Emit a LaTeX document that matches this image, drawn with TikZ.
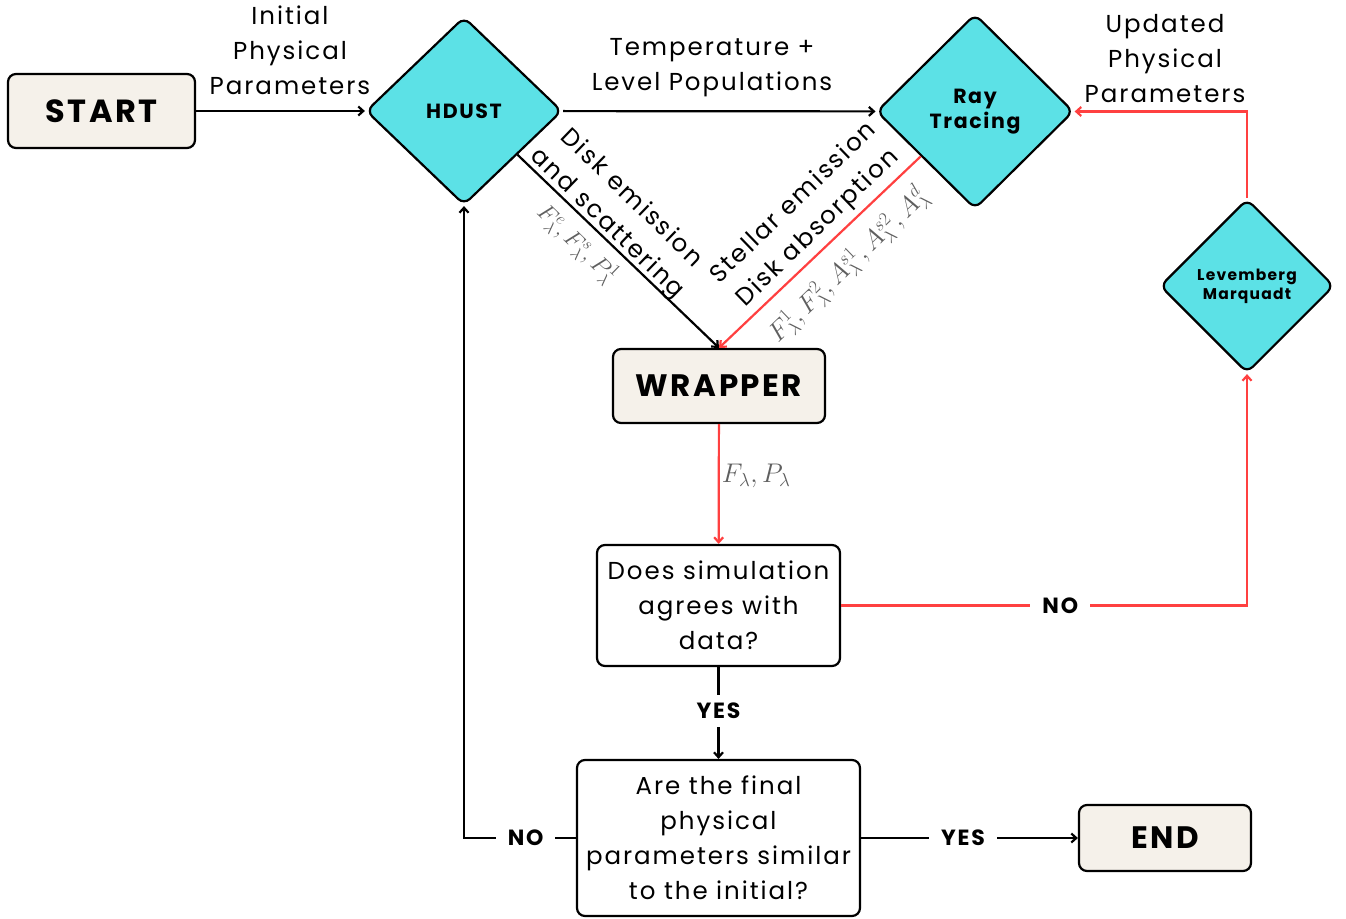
\RequirePackage{fix-cm}
\documentclass[tikz,border=0pt]{standalone}
\usepackage{fontspec}
\setmainfont{Poppins}[LetterSpace=8]
\usetikzlibrary{shapes.geometric,arrows.meta,calc}
\definecolor{cyanf}{RGB}{92,225,230}
\definecolor{beige}{RGB}{245,241,234}
\definecolor{redl}{RGB}{255,64,64}
\definecolor{mathgray}{RGB}{95,95,95}
\begin{document}
\begin{tikzpicture}[x=1pt,y=-1pt,
  term/.style={draw=black, line width=2.2pt, rounded corners=8pt, fill=beige, inner sep=0pt,
    font=\fontsize{31}{31}\selectfont\bfseries},
  qbox/.style={draw=black, line width=2.2pt, rounded corners=8pt, fill=white, align=center,
    inner sep=0pt, font=\fontsize{24.5}{35}\selectfont},
  dia/.style={diamond, draw=black, line width=2.2pt, rounded corners=8pt, fill=cyanf,
    inner sep=0pt, align=center},
  lbl/.style={align=center, inner sep=0pt, font=\fontsize{24.5}{35}\selectfont},
  mlbl/.style={inner sep=0pt, text=mathgray, font=\fontsize{24}{28}\selectfont},
  yn/.style={fill=white, text=black, inner xsep=12pt, inner ysep=3pt, font=\fontsize{22}{22}\selectfont\bfseries},
  conn/.style={line width=2.2pt, -{Straight Barb[length=5pt,width=9pt]}},
]
\useasboundingbox (0,0) rectangle (1346,918);

% nodes
\node[term, minimum width=187pt, minimum height=74pt, font=\fontsize{32}{32}\selectfont\bfseries] (start) at (101.5,111) {START};
\node[dia, minimum width=196pt, minimum height=188pt, font=\fontsize{20.5}{24}\selectfont\bfseries] (hdust) at (464,111) {HDUST};
\node[dia, minimum width=197pt, minimum height=195pt, font=\fontsize{20.5}{25}\selectfont\bfseries] (ray) at (975,111.5) {Ray\\Tracing};
\node[dia, minimum width=174pt, minimum height=174pt, font=\fontsize{15.5}{19}\selectfont\bfseries] (lm) at (1247,286) {Levemberg\\Marquadt};
\node[term, minimum width=212pt, minimum height=74pt] (wrapper) at (719,386) {WRAPPER};
\node[qbox, minimum width=243pt, minimum height=121pt] (does) at (718.5,605.5) {Does simulation\\agrees with\\data?};
\node[qbox, minimum width=283pt, minimum height=156pt] (are) at (718.5,838) {Are the final\\physical\\parameters similar\\to the initial?};
\node[term, minimum width=172pt, minimum height=66pt] (end) at (1165,838) {END};

% labels
\node[lbl] (initlab) at (290,50) {Initial\\Physical\\Parameters};
\node[lbl] (templab) at (712,68) {Temperature +\\Level Populations};
\node[lbl] (updlab) at (1165,59) {Updated\\Physical\\Parameters};
\node[lbl, rotate=-44] (disklab) at (619,211.5) {Disk emission\\and scattering};
\node[mlbl, rotate=-44] (diskmath) at (577,244) {$F^e_\lambda, F^s_\lambda, P^1_\lambda$};
\node[lbl, rotate=44] (starlab) at (806,216) {Stellar emission\\Disk absorption};
\node[mlbl, rotate=44, font=\fontsize{26.5}{30}\selectfont] (starmath) at (848,265) {$F^1_\lambda, F^2_\lambda, A^{s1}_\lambda, A^{s2}_\lambda, A^d_\lambda$};

% connectors
\draw[conn] (start) -- (hdust);
\draw[conn] (hdust) -- (ray);
\coordinate (hdout) at ($(hdust.east)!0.46!(hdust.south)$);
\coordinate (rayout) at ($(ray.west)!0.455!(ray.south)$);
\draw[conn] (hdout) -- (wrapper.north);
\draw[conn, redl] (rayout) -- (wrapper.north);
\draw[conn, redl] (wrapper) -- node[mlbl, right=2pt, pos=0.43, font=\fontsize{27}{30}\selectfont] (flab) {$F_\lambda, P_\lambda$} (does);
\draw[conn, redl] (does.east) -- node[yn, pos=0.54] (no1) {NO} (does.east -| lm.south) -- (lm.south);
\draw[conn, redl] (lm.north) |- (ray.east);
\draw[conn] (does) -- node[yn, pos=0.48, inner ysep=8pt] (yes1) {YES} (are);
\draw[conn] (are) -- node[yn, pos=0.47] (yes2) {YES} (end);
\draw[conn] (are.west) -- node[yn, pos=0.45] (no2) {NO} (are.west -| hdust.south) -- (hdust.south);
\end{tikzpicture}
\end{document}
